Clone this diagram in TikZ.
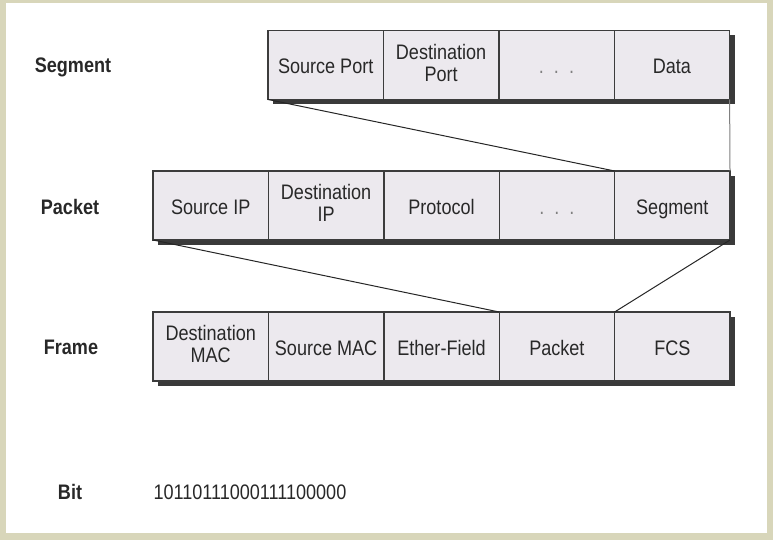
\documentclass[tikz,border=0pt]{standalone}
\usepackage{fontspec}
\setmainfont{Liberation Sans}[FakeStretch=0.86]
\usetikzlibrary{positioning,shadows}
\definecolor{cellfill}{RGB}{236,233,238}
\definecolor{shadowgray}{RGB}{58,58,58}
\definecolor{edgegray}{RGB}{60,60,60}
\definecolor{textgray}{RGB}{40,40,40}
\definecolor{framebeige}{RGB}{216,214,186}
\newcommand\cellstrut{\rule[-5pt]{0pt}{28pt}}
\tikzset{
  cell/.style={draw=edgegray, line width=1.4pt, fill=cellfill, text=textgray,
    minimum width=115.4pt, minimum height=69pt, inner sep=0pt, outer sep=0pt,
    align=center, font=\fontsize{21}{22}\selectfont,
    execute at begin node=\cellstrut, execute at end node=\cellstrut,
    drop shadow={shadow xshift=5pt, shadow yshift=-5pt, fill=shadowgray, opacity=1}},
  layer/.style={text=textgray, font=\fontsize{21}{22}\selectfont\bfseries},
  link/.style={draw=black!85, line width=1pt}
}

\begin{document}
\begin{tikzpicture}[x=1pt,y=-1pt]
    \useasboundingbox (0,0) rectangle (775,548);
    \fill[white] (0,0) rectangle (775,548);
    \fill[framebeige] (0,0) rectangle (773,540);
    \fill[white] (6,3) rectangle (767,533);

    % layer names
    \node[layer] (lseg) at (73,67) {Segment};
    \node[layer] (lpkt) at (70,207) {Packet};
    \node[layer] (lfrm) at (71,347) {Frame};
    \node[layer] (lbit) at (70,492) {Bit};

    % segment
    \node[cell] (sport) at (325.7,65) {Source Port};
    \node[cell, right=0pt of sport] (sdport) {Destination\\Port};
    \node[cell, right=0pt of sdport] (sdots) {\textcolor{gray}{.\ \ .\ \ .}};
    \node[cell, right=0pt of sdots] (sdata) {Data};

    % packet
    \node[cell] (pip) at (210.7,205.5) {Source IP};
    \node[cell, right=0pt of pip] (pdip) {Destination\\IP};
    \node[cell, right=0pt of pdip] (pproto) {Protocol};
    \node[cell, right=0pt of pproto] (pdots) {\textcolor{gray}{.\ \ .\ \ .}};
    \node[cell, right=0pt of pdots] (pseg) {Segment};

    % frame
    \node[cell] (fdmac) at (210.7,346.5) {Destination\\MAC};
    \node[cell, right=0pt of fdmac] (fsmac) {Source MAC};
    \node[cell, right=0pt of fsmac] (feth) {Ether-Field};
    \node[cell, right=0pt of feth] (fpkt) {Packet};
    \node[cell, right=0pt of fpkt] (ffcs) {FCS};

    % bits
    \node[anchor=west, text=textgray, font=\fontsize{21}{22}\selectfont] (bits) at (150,492) {10110111000111100000};

    \draw[link] (sport.south west) -- (pseg.north west);
    \draw[link, draw=gray] (sdata.south east) -- (pseg.north east);
    \draw[link] (pip.south west) -- (fpkt.north west);
    \draw[link] (pseg.south east) -- (ffcs.north west);
\end{tikzpicture}
\end{document}
